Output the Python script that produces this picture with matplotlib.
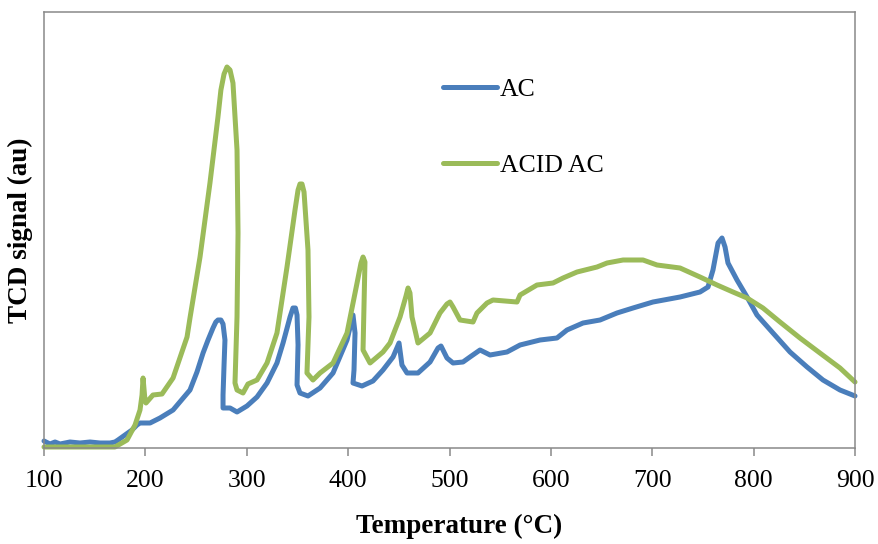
import matplotlib.pyplot as plt

# temperature (deg C) and TCD signal (arbitrary units)
temp_ac = [100.0, 105.9, 110.9, 115.8, 125.6, 135.5, 145.4, 155.2, 165.1, 170.0,
           173.0, 179.9, 186.8, 191.7, 194.7, 204.6, 214.4, 227.3, 244.0, 250.9,
           256.9, 261.8, 266.7, 269.5, 271.6, 274.5, 276.6, 278.5, 277.6, 276.6, 276.6, 283.5,
           290.4, 300.2, 310.1, 320.0, 329.8, 335.8, 342.7, 345.6, 348.0, 349.6, 350.6,
           349.6, 352.5, 360.4, 372.3, 385.1, 398.9, 404.8, 406.8, 405.8, 404.8,
           413.7, 424.5, 434.4, 444.3, 450.2, 453.1, 458.1, 468.9, 480.8, 488.7,
           491.6, 497.5, 503.5, 513.3, 520.2, 530.1, 540.0, 556.7, 569.6, 589.3,
           606.0, 615.9, 631.7, 648.5, 665.2, 681.0, 700.7, 727.4, 747.1, 755.0,
           759.9, 764.9, 768.8, 771.8, 774.7, 783.6, 793.5, 803.3, 819.1, 835.9,
           852.7, 868.4, 885.2, 900.0]
sig_ac = [7, 4, 6, 4, 6, 5, 6, 5, 5, 6,
          8, 13, 18, 23, 25, 25, 30, 38, 58, 76,
          95, 108, 120, 126, 128, 128, 124, 108, 83, 53, 40, 40,
          36, 42, 51, 65, 85, 105, 131, 140, 140, 133, 103,
          63, 55, 52, 60, 75, 108, 133, 115, 78, 65,
          62, 67, 78, 91, 105, 83, 75, 75, 86, 100,
          102, 90, 85, 86, 91, 98, 93, 96, 103, 108,
          110, 118, 125, 128, 135, 140, 146, 151, 156, 161,
          178, 205, 210, 201, 185, 168, 151, 133, 115, 96,
          81, 68, 58, 52]

temp_acid = [100.0, 170.0, 181.9, 189.8, 194.7, 196.7, 197.7, 199.6, 200.6, 207.5,
             216.4, 227.3, 241.1, 244.0, 253.9, 263.7, 271.6, 274.5, 277.6, 280.5, 283.5, 286.4,
             290.4, 291.4, 290.4, 288.4, 290.4, 296.3, 301.2, 310.1, 320.0, 329.8,
             339.7, 347.6, 350.6, 352.5, 354.5, 356.5, 360.4, 361.4, 359.4, 365.3, 372.3, 385.1,
             398.9, 408.8, 412.7, 414.7, 416.6, 414.7, 421.6, 434.4, 441.3, 451.2, 457.1, 459.1,
             461.0, 463.0, 468.9, 480.8, 490.6, 497.5, 500.5, 503.5, 510.4, 523.2, 527.1, 537.0,
             542.9, 566.6, 569.6, 586.3, 602.1, 612.0, 625.8, 645.5, 655.4, 671.2,
             690.9, 704.7, 727.4, 747.1, 763.9, 779.6, 793.5, 809.2, 826.0, 845.7,
             865.4, 885.2, 900.0]
sig_acid = [1, 1, 8, 23, 38, 53, 70, 48, 45, 53,
            54, 70, 111, 130, 191, 265, 331, 358, 374, 381, 378, 365,
            298, 215, 131, 65, 58, 55, 64, 68, 85, 115,
            181, 238, 258, 264, 264, 256, 198, 131, 75, 68, 75, 85,
            115, 165, 185, 191, 186, 98, 85, 96, 105, 131, 152, 160,
            155, 131, 105, 115, 135, 144, 146, 141, 128, 126, 135, 145,
            148, 146, 153, 163, 165, 170, 176, 181, 185, 188,
            188, 183, 180, 171, 163, 156, 150, 140, 126, 110,
            95, 80, 66]

plt.rcParams['font.family'] = ['Liberation Serif', 'DejaVu Serif']

fig = plt.figure(figsize=(8.79, 5.44), dpi=100)
ax = fig.add_axes([0.05006, 0.17647, 0.92264, 0.80147])

ax.plot(temp_ac, sig_ac, color='#4A7EBB', lw=3.6, label='AC', clip_on=False,
        solid_capstyle='round', solid_joinstyle='round')
ax.plot(temp_acid, sig_acid, color='#9BBB59', lw=3.6, label='ACID AC', clip_on=False,
        solid_capstyle='round', solid_joinstyle='round')

ax.set_xlim(100, 900)
ax.set_ylim(0, 436)
ax.set_xticks(range(100, 901, 100))
ax.set_yticks([])

for s in ax.spines.values():
    s.set_color('#898989')
    s.set_linewidth(1.1)
ax.tick_params(axis='x', direction='out', length=6, width=1.1, color='#898989',
               labelsize=18.5, pad=10)

ax.set_xlabel('Temperature (°C)', fontsize=19.5, fontweight='bold')
ax.xaxis.set_label_coords(0.512, -0.152)
ax.set_ylabel('TCD signal (au)', fontsize=19.5, fontweight='bold', labelpad=8)

ax.legend(loc='upper left', bbox_to_anchor=(443 / 879, 1 - 78 / 544),
          bbox_transform=fig.transFigure, frameon=False, fontsize=18.5,
          handlelength=2.1, handletextpad=0.1, labelspacing=2.08,
          borderpad=0, borderaxespad=0)

fig.savefig('out.png', dpi=100)
